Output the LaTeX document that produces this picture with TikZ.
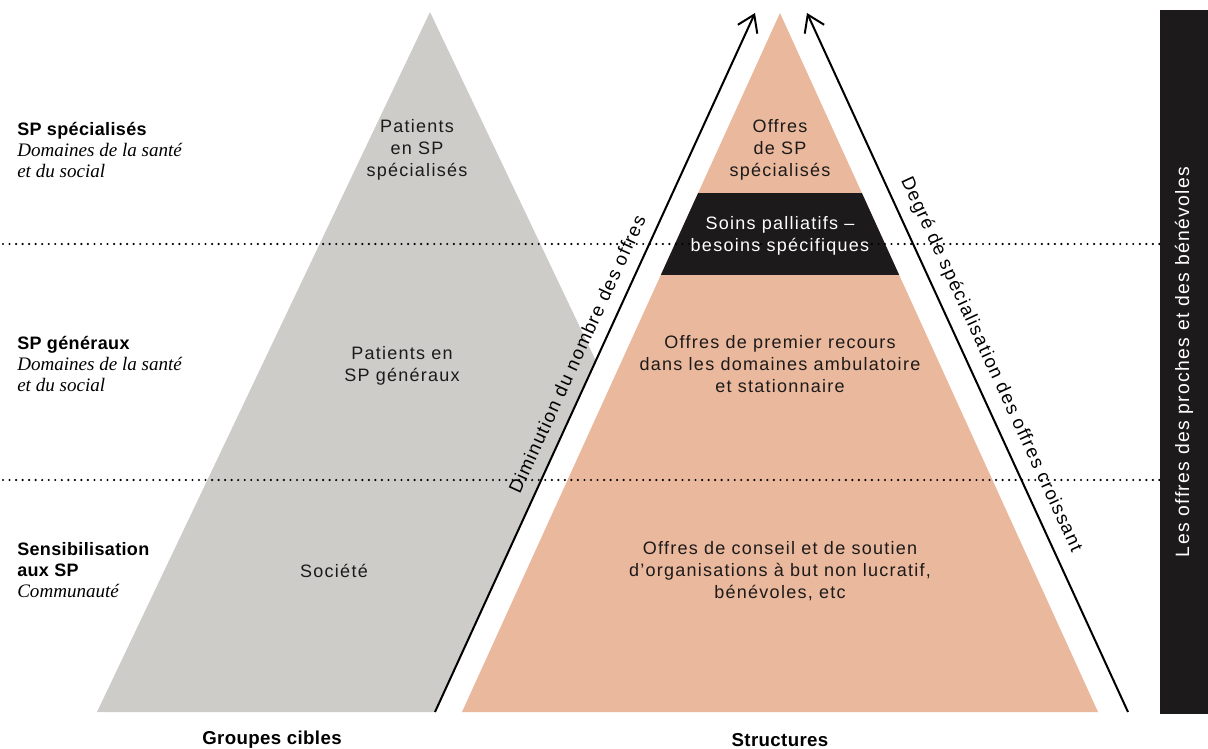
\documentclass[tikz,border=0pt]{standalone}
\usepackage{fontspec}
\setmainfont{Liberation Sans}[LetterSpace=7]
\newfontfamily\headfont{Liberation Sans}[LetterSpace=2]
\newfontfamily\domfont{Liberation Serif}
\usetikzlibrary{arrows.meta, positioning}
\definecolor{greypyr}{RGB}{206,204,201}
\definecolor{pinkpyr}{RGB}{234,184,156}
\definecolor{inkpyr}{RGB}{28,26,26}
\tikzstyle{level} = [anchor=west, align=left, inner sep=0pt, font=\headfont\bfseries\fontsize{13.5}{16}\selectfont]
\tikzstyle{field} = [align=center, inner sep=0pt, text=inkpyr, font=\fontsize{13.5}{16.5}\selectfont]
\tikzstyle{axis} = [inner sep=0pt, font=\headfont\bfseries\fontsize{14}{16}\selectfont]
\tikzstyle{trend} = [draw=black, line width=1.5pt, -{Straight Barb[length=12pt,width=16pt]}]
\tikzstyle{along} = [sloped, inner sep=0pt, font=\fontsize{14}{16}\selectfont]
\tikzstyle{sep} = [line width=1.8pt, line cap=round, dash pattern=on 0pt off 4.9pt]
\tikzstyle{bar} = [fill=inkpyr, text=white, rotate=90, minimum width=528pt, minimum height=36pt, inner sep=0pt, font=\fontsize{14.5}{16.5}\selectfont]
\newcommand{\dom}[1]{{\domfont\mdseries\itshape\fontsize{14.3}{16}\selectfont #1}}

\begin{document}
\begin{tikzpicture}[x=0.75pt, y=-0.75pt]
  \useasboundingbox (0,0) rectangle (1208,749);
  % pyramids
  \coordinate (gtop) at (430,12);
  \coordinate (gcut) at (596,361);
  \coordinate (gleft) at (97,712);
  \coordinate (ptop) at (780,13);
  \coordinate (pleft) at (462,712);
  \coordinate (pright) at (1098,712);
  \coordinate (la0) at (435,712);
  \coordinate (la1) at (755,13);
  \coordinate (ra0) at (1128,712);
  \coordinate (ra1) at (807,13);
  \fill [greypyr] (gtop) -- (gcut) -- (la0) -- (gleft) -- cycle;
  \fill [pinkpyr] (ptop) -- (pleft) -- (pright) -- cycle;
  \begin{scope}
    \clip (ptop) -- (pleft) -- (pright) -- cycle;
    \fill [inkpyr] (600,193) rectangle (960,275);
  \end{scope}
  % arrows
  \draw [trend] (la0) -- node [along, above=9pt, pos=0.5] (less) {Diminution du nombre des offres} (la1);
  \draw [trend] (ra0) -- node [along, above=8pt, pos=0.485] (more) {Degré de spécialisation des offres croissant} (ra1);
  % levels
  \coordinate (s1a) at (3,244);
  \coordinate (s1b) at (1160,244);
  \coordinate (s2a) at (3,480);
  \coordinate (s2b) at (1160,480);
  \draw [sep] (s1a) -- (s1b);
  \draw [sep] (s2a) -- (s2b);
  \node [level] (spec) at (17,150) {SP spécialisés\\\dom{Domaines de la santé}\\\dom{et du social}};
  \node [level] (gen) at (17,364) {SP généraux\\\dom{Domaines de la santé}\\\dom{et du social}};
  \node [level] (sens) at (17,570) {Sensibilisation\\aux SP\\\dom{Communauté}};
  % target groups
  \node [field] (pspec) at (417,150) {Patients\\en SP\\spécialisés};
  \node [field] (pgen) at (402,366) {Patients en\\SP généraux};
  \node [field] (soc) at (334,571) {Société};
  % structures
  \node [field] (ospec) at (780,150) {Offres\\de SP\\spécialisés};
  \node [field, text=white] (needs) at (780,236) {Soins palliatifs –\\besoins spécifiques};
  \node [field] (ogen) at (780,364) {Offres de premier recours\\dans les domaines ambulatoire\\et stationnaire};
  \node [field] (oorg) at (780,571) {Offres de conseil et de soutien\\d’organisations à but non lucratif,\\bénévoles, etc};
  \node [axis] (groups) at (272,740) {Groupes cibles};
  \node [axis] (struct) at (780,740) {Structures};
  \node [bar] (kin) at (1184,362) {Les offres des proches et des bénévoles};
\end{tikzpicture}
\end{document}
